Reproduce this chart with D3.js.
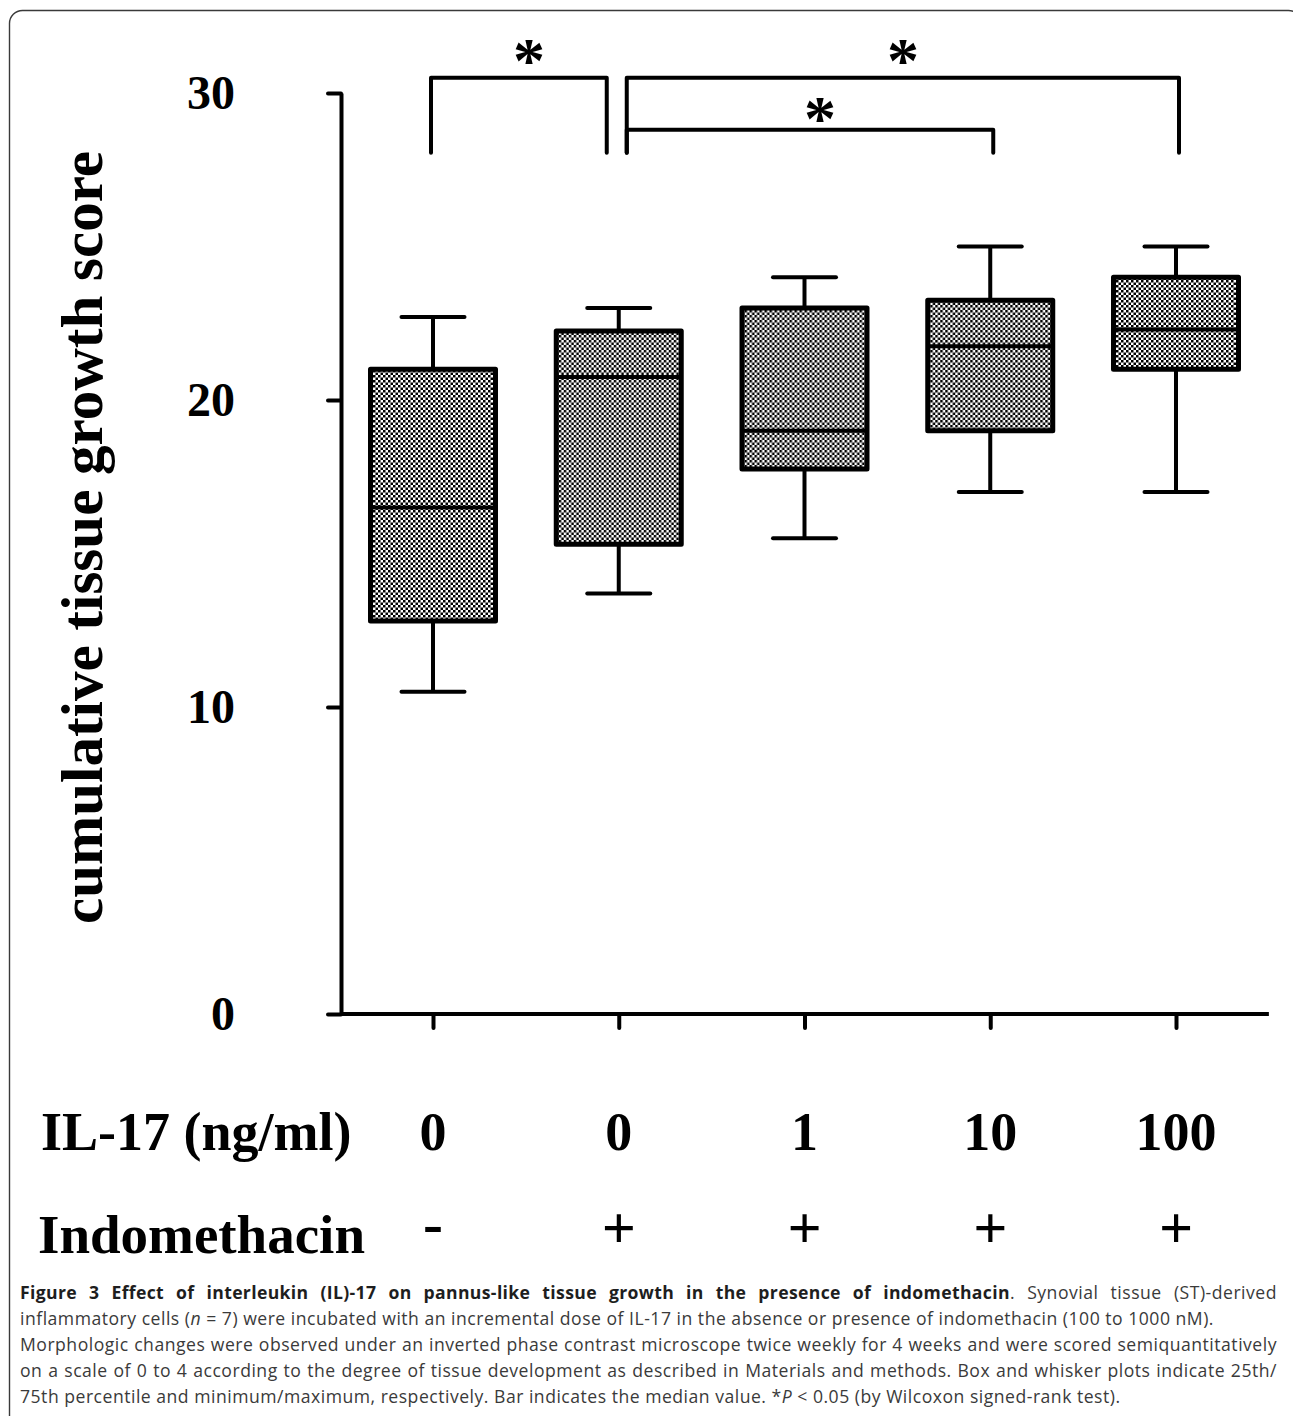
<!DOCTYPE html>
<html lang="en">
<head>
<meta charset="UTF-8">
<title>IL-17 and indomethacin: tissue growth score</title>
<script src="https://d3js.org/d3.v7.min.js"></script>
<style>
    body { margin: 0; background: #fff; }
    #wrap { position: relative; width: 1293px; height: 1416px; overflow: hidden; }
    #wrap svg { position: absolute; left: 0; top: 0; }
    #caption {
        position: absolute;
        left: 20px;
        top: 1279px;
        width: 1257px;
        font-family: "Open Sans", "Noto Sans", sans-serif;
        font-size: 17.6px;
        letter-spacing: 0.5px;
        line-height: 26px;
        color: #3a3a3a;
    }
    #caption .j { text-align: justify; text-align-last: justify; }
    #caption .l { text-align: left; }
    #caption b { color: #1e1e1e; letter-spacing: 0.35px; }
</style>
</head>
<body>
<div id="wrap">
    <div id="caption">
        <div class="j"><b>Figure 3 Effect of interleukin (IL)-17 on pannus-like tissue growth in the presence of indomethacin</b>. Synovial tissue (ST)-derived</div>
        <div class="l">inflammatory cells (<i>n</i> = 7) were incubated with an incremental dose of IL-17 in the absence or presence of indomethacin (100 to 1000 nM).</div>
        <div class="j">Morphologic changes were observed under an inverted phase contrast microscope twice weekly for 4 weeks and were scored semiquantitatively</div>
        <div class="j">on a scale of 0 to 4 according to the degree of tissue development as described in Materials and methods. Box and whisker plots indicate 25th/</div>
        <div class="l">75th percentile and minimum/maximum, respectively. Bar indicates the median value. *<i>P</i> &lt; 0.05 (by Wilcoxon signed-rank test).</div>
    </div>
</div>
<script>
    // groups along the x axis
    const groups = ["A", "B", "C", "D", "E"];
    const il17Labels = ["0", "0", "1", "10", "100"];
    const indoLabels = ["-", "+", "+", "+", "+"];

    // box and whisker values
    const mins    = [10.5, 13.7, 15.5, 17.0, 17.0];
    const q1s     = [12.8, 15.3, 17.75, 19.0, 21.0];
    const medians = [16.5, 20.75, 19.0, 21.75, 22.3];
    const q3s     = [21.0, 22.25, 23.0, 23.25, 24.0];
    const maxs    = [22.7, 23.0, 24.0, 25.0, 25.0];

    const yTicks = [0, 10, 20, 30];

    // significance brackets (group indices)
    const bracketFrom  = [0, 1, 1];
    const bracketTo    = [1, 4, 3];
    const bracketLevel = [0, 0, 1];
    const bracketMark  = ["*", "*", "*"];

    const width = 1293, height = 1416;
    const serif = "'Liberation Serif', 'Times New Roman', serif";

    const svg = d3.select("#wrap").insert("svg", ":first-child")
        .attr("width", width)
        .attr("height", height);

    // frame around the figure
    svg.append("rect")
        .attr("x", 9.5).attr("y", 10.5)
        .attr("width", 1292).attr("height", 1440)
        .attr("rx", 13)
        .attr("fill", "none")
        .attr("stroke", "#3a3a3a")
        .attr("stroke-width", 1.4);

    // checkerboard fill for the boxes
    const pat = svg.append("defs").append("pattern")
        .attr("id", "checker")
        .attr("patternUnits", "userSpaceOnUse")
        .attr("width", 5).attr("height", 5);
    pat.append("rect").attr("width", 5).attr("height", 5).attr("fill", "#fff");
    pat.append("rect").attr("width", 2.5).attr("height", 2.5).attr("fill", "#000");
    pat.append("rect").attr("x", 2.5).attr("y", 2.5).attr("width", 2.5).attr("height", 2.5).attr("fill", "#000");

    const axisX = 341;
    const y = d3.scaleLinear().domain([0, 30]).range([1014, 93]);
    const x = d3.scalePoint().domain(groups).range([433, 1176]);
    const step = x.step();

    // y axis
    const gy = svg.append("g")
        .attr("transform", `translate(${axisX},0)`)
        .call(d3.axisLeft(y).tickValues(yTicks).tickSize(13).tickPadding(93).tickSizeOuter(0))
        .attr("font-family", serif)
        .attr("font-size", 48)
        .attr("font-weight", "bold");
    gy.select(".domain").attr("stroke-width", 4).attr("stroke-linejoin", "round");
    gy.selectAll(".tick line").attr("stroke-width", 4).attr("stroke-linecap", "round");
    gy.selectAll(".tick text").attr("fill", "#000");

    // x axis
    const gx = svg.append("g")
        .attr("transform", `translate(0,${y(0)})`)
        .call(d3.axisBottom(x).tickSize(14).tickFormat(""));
    gx.select(".domain").remove();
    gx.selectAll(".tick line").attr("stroke-width", 4).attr("stroke-linecap", "round");
    gx.append("line")
        .attr("x1", axisX).attr("x2", x(groups[groups.length - 1]) + step / 2)
        .attr("stroke", "#000")
        .attr("stroke-width", 4);

    // y axis title
    svg.append("text")
        .attr("transform", `translate(102,${(y(0) + y(30)) / 2 - 16}) rotate(-90)`)
        .attr("text-anchor", "middle")
        .attr("font-family", serif)
        .attr("font-size", 59)
        .attr("font-weight", "bold")
        .text("cumulative tissue growth score");

    // boxes
    const boxW = 125, capW = 63;
    const box = svg.selectAll(".box")
        .data(groups)
        .join("g")
        .attr("class", "box")
        .attr("transform", d => `translate(${x(d)},0)`);

    box.append("line")
        .attr("y1", (d, i) => y(maxs[i])).attr("y2", (d, i) => y(q3s[i]))
        .attr("stroke", "#000").attr("stroke-width", 4);
    box.append("line")
        .attr("y1", (d, i) => y(q1s[i])).attr("y2", (d, i) => y(mins[i]))
        .attr("stroke", "#000").attr("stroke-width", 4);
    box.append("line")
        .attr("x1", -capW / 2).attr("x2", capW / 2)
        .attr("y1", (d, i) => y(maxs[i])).attr("y2", (d, i) => y(maxs[i]))
        .attr("stroke", "#000").attr("stroke-width", 4).attr("stroke-linecap", "round");
    box.append("line")
        .attr("x1", -capW / 2).attr("x2", capW / 2)
        .attr("y1", (d, i) => y(mins[i])).attr("y2", (d, i) => y(mins[i]))
        .attr("stroke", "#000").attr("stroke-width", 4).attr("stroke-linecap", "round");
    box.append("rect")
        .attr("x", -boxW / 2)
        .attr("width", boxW)
        .attr("y", (d, i) => y(q3s[i]))
        .attr("height", (d, i) => y(q1s[i]) - y(q3s[i]))
        .attr("fill", "url(#checker)")
        .attr("stroke", "#000")
        .attr("stroke-width", 5)
        .attr("stroke-linejoin", "round");
    box.append("line")
        .attr("x1", -boxW / 2).attr("x2", boxW / 2)
        .attr("y1", (d, i) => y(medians[i])).attr("y2", (d, i) => y(medians[i]))
        .attr("stroke", "#000").attr("stroke-width", 4);

    // significance brackets
    const gap = 10;
    const legBottom = y(28.05);
    bracketFrom.forEach((f, k) => {
        const t = bracketTo[k];
        const top = y(30.5 - bracketLevel[k] * 1.7);
        const x1 = x(groups[f]) + (f === 1 ? gap - 2 : -2);
        const x2 = x(groups[t]) + (t === 1 ? -gap - 2 : 3);
        svg.append("path")
            .attr("d", `M${x1},${legBottom}V${top}H${x2}V${legBottom}`)
            .attr("fill", "none")
            .attr("stroke", "#000")
            .attr("stroke-width", 4)
            .attr("stroke-linejoin", "round")
            .attr("stroke-linecap", "round");
        svg.append("text")
            .attr("x", (x1 + x2) / 2 + (k === 1 ? 0 : 10))
            .attr("y", top + 4 + bracketLevel[k] * 6)
            .attr("text-anchor", "middle")
            .attr("font-family", serif)
            .attr("font-size", 64)
            .attr("font-weight", "bold")
            .text(bracketMark[k]);
    });

    // rows of group labels under the axis
    const rows = [
        {title: "IL-17 (ng/ml)", labels: il17Labels, base: 1150, titleX: 41, titleDy: 0, size: 54, titleSize: 54},
        {title: "Indomethacin", labels: indoLabels, base: 1248, titleX: 38, titleDy: 5, size: 60, titleSize: 55}
    ];
    rows.forEach(r => {
        svg.append("text")
            .attr("x", r.titleX).attr("y", r.base + r.titleDy)
            .attr("font-family", serif)
            .attr("font-size", r.titleSize)
            .attr("font-weight", "bold")
            .text(r.title);
        svg.selectAll(null)
            .data(groups)
            .join("text")
            .attr("x", d => x(d))
            .attr("y", (d, i) => r.base + (r.labels[i] === "-" ? -5 : 0))
            .attr("text-anchor", "middle")
            .attr("font-family", serif)
            .attr("font-size", r.size)
            .attr("font-weight", "bold")
            .text((d, i) => r.labels[i]);
    });
</script>
</body>
</html>
